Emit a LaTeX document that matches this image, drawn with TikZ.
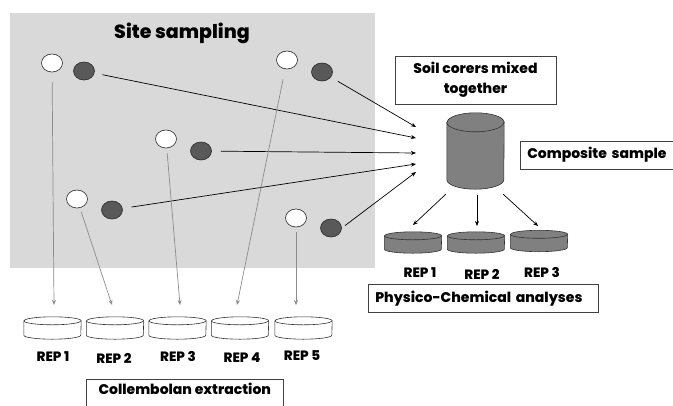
\documentclass[tikz,border=0pt]{standalone}
\usepackage{fontspec}
\setmainfont{Poppins}[BoldFont={Poppins ExtraBold}]
\usetikzlibrary{arrows.meta,shapes.geometric,calc}
\definecolor{bggray}{HTML}{D9D9D9}
\definecolor{darkfill}{HTML}{595959}
\definecolor{midfill}{HTML}{808080}
\definecolor{linegray}{HTML}{8C8C8C}
\newcommand{\dishdraw}[2]{%
  \path[draw=black!80,line width=0.6pt,fill=#2]
    ([yshift=-4pt]#1.north west) -- ([yshift=4pt]#1.south west)
    arc[start angle=180,end angle=360,x radius=28.5pt,y radius=4pt]
    -- ([yshift=-4pt]#1.north east)
    arc[start angle=0,end angle=180,x radius=28.5pt,y radius=4pt] -- cycle;
  \draw[black!80,line width=0.6pt] ([yshift=-4pt]#1.north west)
    arc[start angle=180,end angle=360,x radius=28.5pt,y radius=4pt];
}
\begin{document}
\begin{tikzpicture}[x=1pt,y=-1pt,
  wcirc/.style={ellipse,draw=black!85,fill=white,minimum width=21pt,minimum height=18pt,inner sep=0pt,line width=0.6pt},
  dcirc/.style={wcirc,fill=darkfill},
  garrow/.style={draw=linegray,line width=0.7pt,-{Stealth[length=5pt,width=4pt]}},
  barrow/.style={draw=black,line width=0.7pt,-{Stealth[length=5pt,width=4pt]}},
  dishbox/.style={minimum width=57pt,minimum height=22pt,inner sep=0pt},
  replbl/.style={font=\bfseries\fontsize{13.5}{15}\selectfont,inner sep=0pt},
  tbox/.style={draw=black!75,line width=0.6pt,fill=white,font=\bfseries\fontsize{14}{17}\selectfont}
]
\useasboundingbox (0,0) rectangle (673,405);
\fill[white] (0,0) rectangle (673,405);
\fill[bggray] (10,13) rectangle (375,268);
\node[font=\bfseries\fontsize{19}{22}\selectfont] (title) at (182,33) {Site sampling};

\node[wcirc] (w1) at (52,63) {};
\node[dcirc] (k1) at (84,71) {};
\node[wcirc] (w2) at (287,60) {};
\node[dcirc] (k2) at (322,72) {};
\node[wcirc] (w3) at (166,139) {};
\node[dcirc] (k3) at (201,151) {};
\node[wcirc] (w4) at (77,199) {};
\node[dcirc] (k4) at (112,210) {};
\node[wcirc] (w5) at (296,218) {};
\node[dcirc] (k5) at (331,228) {};

% convergence points
\coordinate (m1) at (416,127);
\coordinate (m2) at (416,138);
\coordinate (m3) at (416,153);
\coordinate (m4) at (416,164);
\coordinate (m5) at (416,172);
\draw[barrow,shorten <=8pt] (k2) -- (m1);
\draw[barrow,shorten <=8pt] (k1) -- (m2);
\draw[barrow,shorten <=9pt] (k3) -- (m3);
\draw[barrow,shorten <=9pt] (k4) -- (m4);
\draw[barrow,shorten <=4pt] (k5.east) -- (m5);

% collembolan dishes
\node[dishbox] (c1) at (52.5,328) {};
\node[dishbox] (c2) at (115,328) {};
\node[dishbox] (c3) at (177.5,328) {};
\node[dishbox] (c4) at (240,328) {};
\node[dishbox] (c5) at (303.5,328) {};
\foreach \n in {c1,c2,c3,c4,c5} {\dishdraw{\n}{white}}
\coordinate (t1) at (54,305);
\coordinate (t2) at (112,305);
\coordinate (t3) at (180,305);
\coordinate (t4) at (237,305);
\coordinate (t5) at (296,305);
\draw[garrow,shorten <=10pt] (w1) -- (t1);
\draw[garrow,shorten <=4pt] (w4) -- (t2);
\draw[garrow,shorten <=5pt] (w3) -- (t3);
\draw[garrow,shorten <=10pt] (w2) -- (t4);
\draw[garrow,shorten <=5pt] (w5) -- (t5);

\node[replbl] (r1) at (53,357) {REP 1};
\node[replbl] (r2) at (114,358) {REP 2};
\node[replbl] (r3) at (178,356) {REP 3};
\node[replbl] (r4) at (242,358) {REP 4};
\node[replbl] (r5) at (302,356) {REP 5};

\node[tbox,anchor=north west,minimum width=197pt,minimum height=40pt,text depth=22pt,inner xsep=9pt,align=left] (coll) at (86,379) {Collembolan extraction};

% right side
\node[tbox,minimum width=161pt,minimum height=48pt,align=center,font=\bfseries\fontsize{14}{20}\selectfont] (soil) at (475.5,80) {Soil corers mixed\\together};

\node[dishbox,minimum height=76pt] (cyl) at (475.5,151) {};
\path[draw=black!80,line width=0.6pt,fill=midfill]
  ([yshift=-9.5pt]cyl.north west) -- ([yshift=9.5pt]cyl.south west)
  arc[start angle=180,end angle=360,x radius=28.5pt,y radius=9.5pt]
  -- ([yshift=-9.5pt]cyl.north east)
  arc[start angle=0,end angle=180,x radius=28.5pt,y radius=9.5pt] -- cycle;
\draw[black!80,line width=0.6pt] ([yshift=-9.5pt]cyl.north west)
  arc[start angle=180,end angle=360,x radius=28.5pt,y radius=9.5pt];

\node[tbox,anchor=west,minimum width=160pt,minimum height=28pt,inner xsep=7pt,align=left,text width=146pt] (comp) at (520,155) {Composite sample};

\node[dishbox,minimum height=21pt] (p1) at (413,242.5) {};
\node[dishbox,minimum height=21pt] (p2) at (476,242.5) {};
\node[dishbox,minimum height=21pt] (p3) at (539,241) {};
\foreach \n in {p1,p2,p3} {\dishdraw{\n}{midfill}}
\coordinate (s1) at (413,225);
\coordinate (s2) at (477,226);
\coordinate (s3) at (538,226);
\draw[barrow] ([xshift=-1pt,yshift=-5pt]cyl.south west) -- (s1);
\draw[barrow] ([xshift=1.5pt,yshift=-6pt]cyl.south) -- (s2);
\draw[barrow] ([xshift=-1pt,yshift=-5pt]cyl.south east) -- (s3);

\node[replbl] (q1) at (420,273) {REP 1};
\node[replbl] (q2) at (482,274) {REP 2};
\node[replbl] (q3) at (542,272) {REP 3};

\node[tbox,anchor=north west,minimum width=230pt,minimum height=28pt,inner xsep=7pt,align=left,text width=216pt] (phys) at (368,284) {Physico-Chemical analyses};
\end{tikzpicture}
\end{document}
